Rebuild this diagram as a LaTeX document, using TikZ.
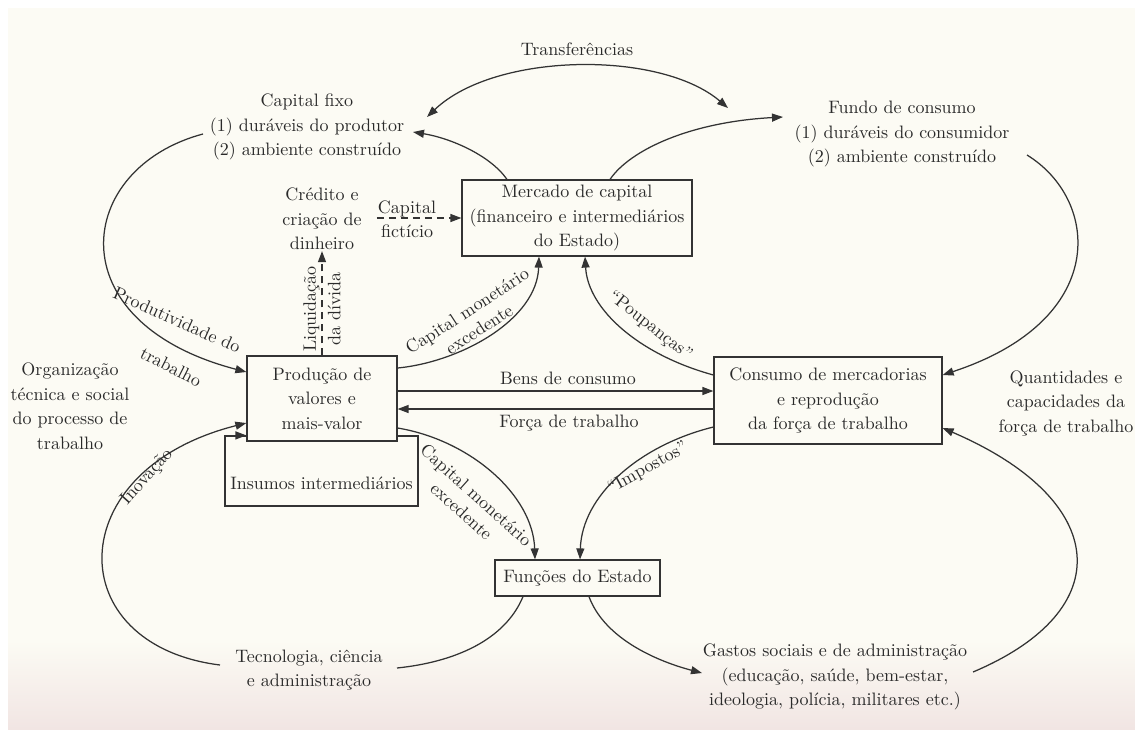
\documentclass[tikz,border=0pt]{standalone}
\usepackage{fontspec}
\setmainfont{lmroman10-regular.otf}
\usetikzlibrary{arrows.meta,calc}
\definecolor{ink}{HTML}{333333}
\definecolor{txt}{HTML}{2A2A2A}
\definecolor{paper}{HTML}{FCFBF4}
\definecolor{paperlow}{HTML}{F1E5E3}
\begin{document}
\begin{tikzpicture}[x=1pt,y=-1pt,
  font=\fontsize{18}{24.5}\selectfont,
  box/.style={draw=ink, line width=1.2pt, fill=paper, align=center, inner sep=0pt, text=txt},
  lbl/.style={align=center, text=txt, inner sep=1pt},
  tight/.style={lbl, font=\fontsize{18}{22}\selectfont},
  conn/.style={draw=ink, line width=1.25pt},
  arr/.style={conn, -{Triangle[length=11pt,width=8pt]}},
  darr/.style={conn, {Triangle[length=11pt,width=8pt]}-{Triangle[length=11pt,width=8pt]}},
  dasharr/.style={arr, dash pattern=on 7pt off 5pt}]
\useasboundingbox (0,0) rectangle (1135,729);
\fill[white] (0,0) rectangle (1135,729);
\fill[paper] (8,8) rectangle (1135,729);
\shade[top color=paper,bottom color=paperlow] (8,640) rectangle (1135,729);

% boxes
\node[box, minimum width=230pt, minimum height=76pt] (merc) at (577,218) {Mercado de capital\\(financeiro e intermediários\\do Estado)};
\node[box, minimum width=193pt, minimum height=70pt] (ins) at (321.5,471) {};
\node[box, minimum width=150pt, minimum height=85pt] (prod) at (322,398.5) {Produção de\\valores e\\mais-valor};
\node[lbl] (instext) at (321.5,483) {Insumos intermediários};
\node[box, minimum width=228pt, minimum height=87pt] (cons) at (828,400.5) {Consumo de mercadorias\\e reprodução\\da força de trabalho};
\node[box, minimum width=165pt, minimum height=36pt] (func) at (577.5,578) {Funções do Estado};

% free texts
\node[lbl] (trans) at (577,49) {Transferências};
\node[lbl] (capfixo) at (307,127) {Capital fixo\\(1) duráveis do produtor\\(2) ambiente construído};
\node[lbl] (fundo) at (902,134) {Fundo de consumo\\(1) duráveis do consumidor\\(2) ambiente construído};
\node[lbl] (credito) at (322,219) {Crédito e\\criação de\\dinheiro};
\node[lbl] (ficticio) at (407,219) {Capital\\fictício};
\node[lbl, rotate=90] (liq) at (322,309) {Liquidação\\da dívida};
\node[lbl] (org) at (70,406) {Organização\\técnica e social\\do processo de\\trabalho};
\node[lbl] (quant) at (1066,403) {Quantidades e\\capacidades da\\força de trabalho};
\node[lbl] (bens) at (568,378) {Bens de consumo};
\node[lbl] (forca) at (569,423) {Força de trabalho};
\node[lbl] (tec) at (309,670) {Tecnologia, ciência\\e administração};
\node[lbl] (gastos) at (835,677) {Gastos sociais e de administração\\(educação, saúde, bem-estar,\\ideologia, polícia, militares etc.)};

% rotated labels
\node[lbl, rotate=-24] (pt1) at (177,320) {Produtividade do};
\node[lbl, rotate=-27] (pt2) at (171,367) {trabalho};
\node[tight, rotate=33] (cm1) at (473,320) {Capital monetário\\excedente};
\node[lbl, rotate=-38] (poup) at (650,326) {“Poupanças”};
\node[lbl, rotate=29] (imp) at (648,468) {“Impostos”};
\node[tight, rotate=-42] (cm3) at (469,503) {Capital monetário\\excedente};
\node[lbl, rotate=48] (inov) at (147,477) {Inovação};

% free ends
\coordinate (tL) at (427,117);
\coordinate (tR) at (728,108);
\coordinate (cfB) at (413,132);
\coordinate (fcC) at (783,117);
\coordinate (cfD) at (203,134);
\coordinate (fdE) at (1027,155);
\coordinate (tecL) at (220,665);
\coordinate (tecM) at (397,668);
\coordinate (gaN) at (702,673);
\coordinate (gaO) at (973,672);

% connectors
\draw[darr] (tL) .. controls (495,52) and (660,50) .. (tR);
\draw[arr] ([xshift=-70pt]merc.north) .. controls (490,155) and (450,138) .. (cfB);
\draw[arr] ([xshift=33pt]merc.north) .. controls (630,150) and (690,122) .. (fcC);
\draw[arr] (cfD) .. controls (75,168) and (55,322) .. ([yshift=26.5pt]prod.west);
\draw[arr] (fdE) .. controls (1100,200) and (1110,320) .. ([yshift=25.5pt]cons.east);
\draw[arr] ([yshift=30.5pt]prod.east) .. controls (460,362) and (537,320) .. ([xshift=-38pt]merc.south);
\draw[arr] ([yshift=25.5pt]cons.west) .. controls (640,355) and (588,310) .. ([xshift=8pt]merc.south);
\coordinate (b1) at ([yshift=7.5pt]prod.east);
\draw[arr] (b1) -- (b1 -| cons.west);
\coordinate (f1) at ([yshift=-8.5pt]cons.west);
\draw[arr] (f1) -- (f1 -| prod.east);
\draw[arr] ([yshift=-29.5pt]prod.east) .. controls (470,440) and (533,495) .. ([xshift=-42.5pt]func.north);
\draw[arr] ([yshift=-26.5pt]cons.west) .. controls (640,445) and (582,495) .. ([xshift=2.5pt]func.north);
\draw[arr] (tecL) .. controls (60,645) and (60,470) .. ([yshift=-24.5pt]prod.west);
\draw[conn] ([xshift=-54.5pt]func.south) .. controls (505,640) and (455,662) .. (tecM);
\draw[arr] ([xshift=11.5pt]func.south) .. controls (605,640) and (660,662) .. (gaN);
\draw[arr] (gaO) .. controls (1120,610) and (1110,500) .. ([yshift=-27.5pt]cons.east);
\draw[arr] (ins.north west) -- (ins.north west -| prod.west);
\draw[dasharr] (prod.north) -- (credito.south);
\draw[dasharr] (ficticio.west |- merc.west) -- (merc.west);
\end{tikzpicture}
\end{document}
